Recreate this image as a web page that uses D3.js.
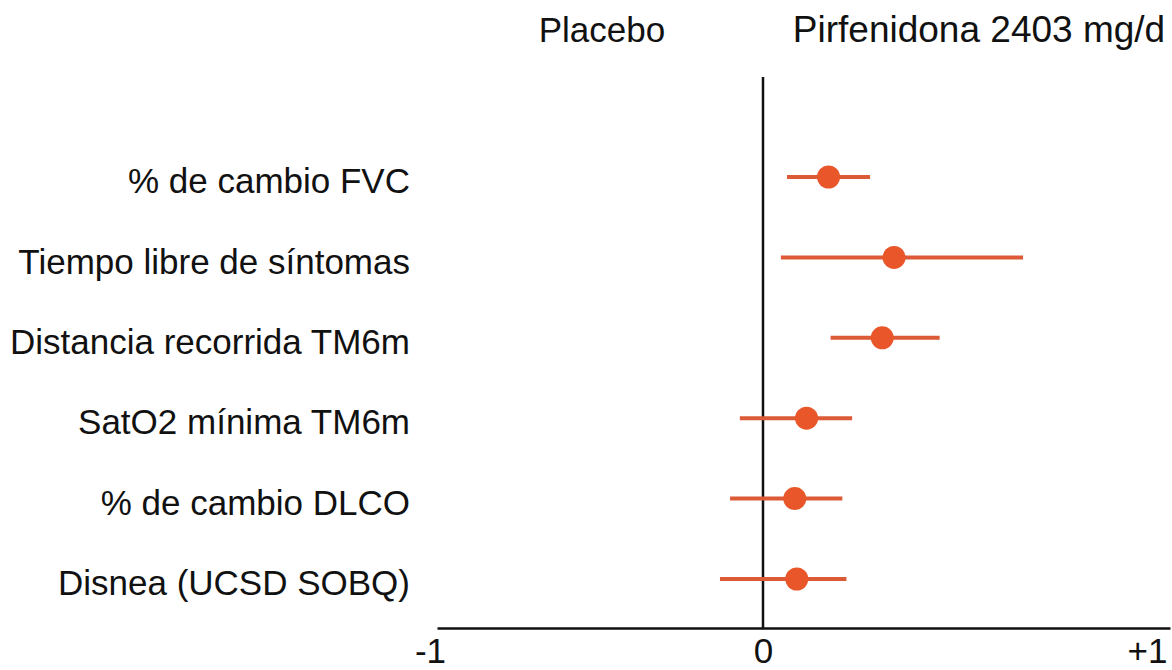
<!DOCTYPE html>
<html>
<head>
<script src="https://d3js.org/d3.v7.min.js"></script>
<meta charset="utf-8">
<title>Pirfenidona forest plot</title>
<style>
    body { margin: 0; background: #FFF; }
    svg { display: block; font-family: "Liberation Sans", Arial, Helvetica, sans-serif; }
    .lbl { font-size: 35px; fill: #111; }
    .axis text { font-size: 35px; fill: #111; }
</style>
</head>
<body>
<script>
    var outcomes = ['% de cambio FVC', 'Tiempo libre de síntomas', 'Distancia recorrida TM6m',
                    'SatO2 mínima TM6m', '% de cambio DLCO', 'Disnea (UCSD SOBQ)'];
    var estimate = [0.161, 0.322, 0.293, 0.107, 0.078, 0.083];
    var lower    = [0.059, 0.044, 0.166, -0.071, -0.101, -0.132];
    var upper    = [0.263, 0.639, 0.434, 0.219, 0.195, 0.205];
    var tickVals = [-1, 0, 1];
    var tickText = ['-1', '0', '+1'];
    var groups   = ['Placebo', 'Pirfenidona 2403 mg/d'];

    var width = 1172, height = 670;
    var orange = '#e8562a';

    var svg = d3.select('body').append('svg')
        .attr('width', width)
        .attr('height', height);

    // the picture's axis is not symmetric round 0
    var x = d3.scaleLinear().domain([-1, 0, 1]).range([437, 763, 1170]);
    var y = d3.scalePoint().domain(outcomes).range([177, 579]);

    var axisY = 628;

    var axis = svg.append('g')
        .attr('class', 'axis')
        .attr('transform', 'translate(0,' + axisY + ')')
        .call(d3.axisBottom(x).tickValues(tickVals).tickSizeInner(0).tickSizeOuter(0).tickPadding(6)
            .tickFormat(function(d, i){ return tickText[i]; }));
    axis.select('.domain').attr('stroke', '#111').attr('stroke-width', 2.5);
    axis.selectAll('text').attr('dy', '0.82em');
    axis.selectAll('.tick').filter(function(d){ return d === -1; }).select('text')
        .attr('dx', -7);
    axis.selectAll('.tick').filter(function(d){ return d === 1; }).select('text')
        .attr('text-anchor', 'end').attr('dx', -3);

    // zero line
    svg.append('line')
        .attr('x1', x(0)).attr('x2', x(0))
        .attr('y1', 77).attr('y2', axisY)
        .attr('stroke', '#111').attr('stroke-width', 2.5);

    // group headers
    svg.selectAll('.head').data(groups).enter().append('text')
        .attr('class', 'lbl head')
        .attr('x', function(d, i){ return i === 0 ? 602 : 979; })
        .attr('y', 42)
        .attr('text-anchor', 'middle')
        .style('font-size', function(d, i){ return i === 0 ? '35px' : '37px'; })
        .text(function(d){ return d; });

    // row labels
    svg.selectAll('.row').data(outcomes).enter().append('text')
        .attr('class', 'lbl row')
        .attr('x', 410)
        .attr('y', function(d){ return y(d) + 4; })
        .attr('dy', '0.35em')
        .attr('text-anchor', 'end')
        .text(function(d){ return d; });

    // CI lines
    svg.selectAll('.ci').data(outcomes).enter().append('line')
        .attr('class', 'ci')
        .attr('x1', function(d, i){ return x(lower[i]); })
        .attr('x2', function(d, i){ return x(upper[i]); })
        .attr('y1', function(d){ return y(d); })
        .attr('y2', function(d){ return y(d); })
        .attr('stroke', '#dc5a36')
        .attr('stroke-width', 4);

    // point estimates
    svg.selectAll('.pt').data(outcomes).enter().append('circle')
        .attr('class', 'pt')
        .attr('cx', function(d, i){ return x(estimate[i]); })
        .attr('cy', function(d){ return y(d); })
        .attr('r', 11.5)
        .attr('fill', orange);
</script>
</body>
</html>
